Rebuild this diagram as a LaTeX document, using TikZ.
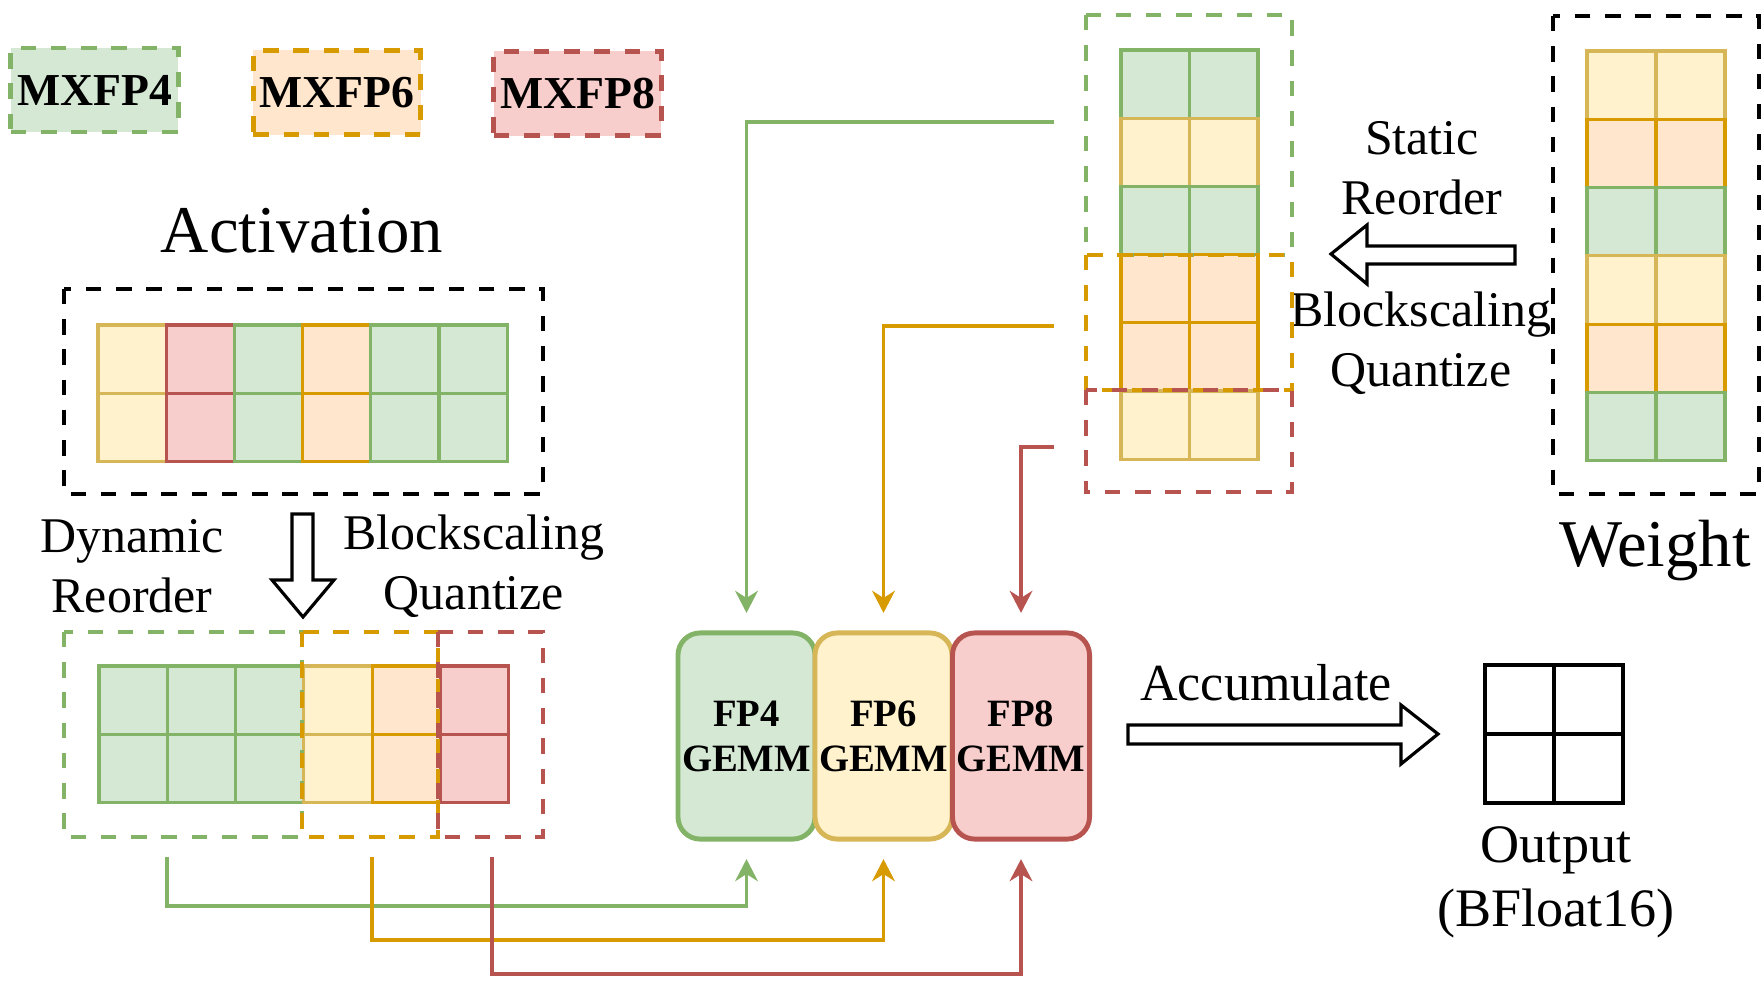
\documentclass[tikz,border=0pt]{standalone}
\usepackage{fontspec}
\setmainfont{Liberation Serif}
\usetikzlibrary{arrows.meta}
\definecolor{fG}{HTML}{D5E8D4}\definecolor{lG}{HTML}{82B366}
\definecolor{fY}{HTML}{FFF2CC}\definecolor{lY}{HTML}{D6B656}
\definecolor{fO}{HTML}{FFE6CC}\definecolor{lO}{HTML}{D79B00}
\definecolor{fR}{HTML}{F8CECC}\definecolor{lR}{HTML}{B85450}
\begin{document}
\begin{tikzpicture}[x=0.01cm,y=-0.01cm,
    cell/.style={line width=0.9pt},
    dashbox/.style={line width=1.2pt,dash pattern=on 4.4pt off 4.2pt},
    legend/.style={dashbox,line width=1.4pt,minimum width=1.67cm,minimum height=0.84cm,inner sep=0pt,
      font=\fontsize{13}{15}\bfseries\selectfont},
    gemm/.style={draw,rounded corners=6.3pt,line width=1.4pt,minimum width=1.37cm,minimum height=2.06cm,
      align=center,inner sep=0pt,font=\fontsize{11}{12.8}\bfseries\selectfont},
    flow/.style={line width=0.9pt,-{Stealth[length=6.3pt,width=6.5pt]},shorten >=5pt},
    hollow/.style={draw,line width=0.9pt,fill=white,line join=miter},
    txt/.style={align=center,font=\fontsize{14.2}{17}\selectfont}]
  \useasboundingbox (0,0) rectangle (1764,985);
  % legend
  \node[legend,fill=fG,draw=lG] (lg4) at (94.5,90) {MXFP4};
  \node[legend,fill=fO,draw=lO] (lg6) at (337,92.5) {MXFP6};
  \node[legend,fill=fR,draw=lR] (lg8) at (577.5,93.5) {MXFP8};
  % activation
  \node[font=\fontsize{19}{22}\selectfont] (act) at (302,231) {Activation};
  \foreach \c [count=\i from 0] in {Y,R,G,O,G,G}
    \foreach \j in {0,1}
      \draw[cell,fill=f\c,draw=l\c] (98+\i*68.2,325+\j*68.2) rectangle ++(68.2,68.2);
  \draw[dashbox,line width=1.3pt] (64,289) rectangle (543,494);
  \node[txt] (dyn) at (132,566) {Dynamic\\Reorder};
  \node[txt] (bsa) at (474,566) {Blockscaling\\Quantize};
  \draw[hollow] (292,514) -- (313,514) -- (313,580) -- (334,580) -- (303,617) -- (272,580) -- (292,580) -- cycle;
  % reordered activation
  \foreach \c [count=\i from 0] in {G,G,G,Y,O,R}
    \foreach \j in {0,1}
      \draw[cell,fill=f\c,draw=l\c] (99+\i*68.3,666+\j*68.3) rectangle ++(68.3,68.3);
  \draw[dashbox,lG] (64,632) rectangle (302,837);
  \draw[dashbox,lO] (302,632) rectangle (438,837);
  \draw[dashbox,lR] (438,632) rectangle (543,837);
  % weight
  \foreach \c [count=\j from 0] in {Y,O,G,Y,O,G}
    \foreach \i in {0,1}
      \draw[cell,fill=f\c,draw=l\c] (1587+\i*69,51+\j*68.3) rectangle ++(69,68.3);
  \draw[dashbox,line width=1.3pt] (1553,16) rectangle (1759,494);
  \node[font=\fontsize{19}{22}\selectfont] (wgt) at (1655,551) {Weight};
  \node[txt] (sta) at (1422,168) {Static\\Reorder};
  \node[txt] (bsw) at (1421,343) {Blockscaling\\Quantize};
  \draw[hollow] (1331,254) -- (1367,225) -- (1367,246) -- (1515,246) -- (1515,264) -- (1367,264) -- (1367,284) -- cycle;
  % reordered weight
  \foreach \c [count=\j from 0] in {G,Y,G,O,O,Y}
    \foreach \i in {0,1}
      \draw[cell,fill=f\c,draw=l\c] (1121+\i*68.5,50+\j*68.2) rectangle ++(68.5,68.2);
  \draw[dashbox,lG] (1086,15) rectangle (1292,255);
  \draw[dashbox,lO] (1086,255) rectangle (1292,390);
  \draw[dashbox,lR] (1086,390) rectangle (1292,492);
  % gemm kernels
  \node[gemm,fill=fG,draw=lG] (g4) at (746.5,736) {FP4\\GEMM};
  \node[gemm,fill=fY,draw=lY] (g6) at (883.5,736) {FP6\\GEMM};
  \node[gemm,fill=fR,draw=lR] (g8) at (1021,736) {FP8\\GEMM};
  % connectors
  \coordinate (s4) at (167,857);
  \coordinate (s6) at (372,857);
  \coordinate (s8) at (492,857);
  \coordinate (t4) at (1054,122);
  \coordinate (t6) at (1054,326);
  \coordinate (t8) at (1054,447);
  \draw[flow,lG] (s4) -- ++(0,49) -| (g4);
  \draw[flow,lO] (s6) -- ++(0,83) -| (g6);
  \draw[flow,lR] (s8) -- ++(0,117) -| (g8);
  \draw[flow,lG] (t4) -| (g4);
  \draw[flow,lO] (t6) -| (g6);
  \draw[flow,lR] (t8) -| (g8);
  % output
  \node[font=\fontsize{14.8}{17}\selectfont] (acc) at (1266,683) {Accumulate};
  \draw[hollow] (1128,725) -- (1401,725) -- (1401,705) -- (1438,734) -- (1401,764) -- (1401,744) -- (1128,744) -- cycle;
  \draw[line width=1.1pt] (1485,665) rectangle (1623,803);
  \draw[line width=1.1pt] (1554,665) -- (1554,803) (1485,734) -- (1623,734);
  \node[align=center,font=\fontsize{15.4}{18.2}\selectfont] (out) at (1556,882) {Output\\(BFloat16)};
\end{tikzpicture}
\end{document}
